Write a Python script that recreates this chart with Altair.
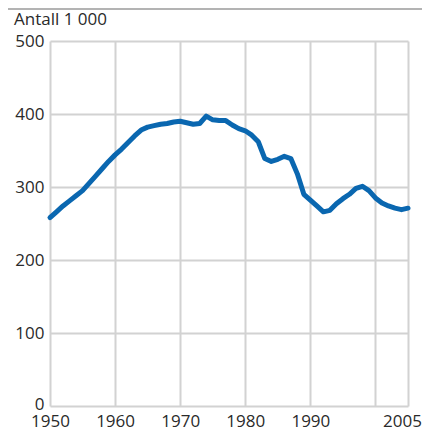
import altair as alt
import pandas as pd

years = list(range(1950, 2006))
values = [258, 266, 274, 281, 288, 295, 305, 315, 325, 335,
          344, 352, 361, 370, 378, 382, 384, 386, 387, 389,
          390, 388, 386, 387, 397, 392, 391, 391, 385, 380,
          377, 371, 362, 339, 335, 338, 342, 339, 318, 290,
          282, 274, 266, 268, 277, 284, 290, 298, 301, 295,
          285, 278, 274, 271, 269, 271]
x_ticks = [1950, 1960, 1970, 1980, 1990, 2000, 2005]
y_ticks = [0, 100, 200, 300, 400, 500]
title_text = "Antall 1 000"

df = pd.DataFrame({"year": years, "value": values})
FONT = "Open Sans"
FS = 17

line = alt.Chart(df).mark_line(color="#0a67b0", strokeWidth=5, strokeJoin="round", strokeCap="round").encode(
    x=alt.X("year:Q", scale=alt.Scale(domain=[1950, 2005], nice=False, zero=False),
            axis=alt.Axis(values=x_ticks, format="d", title=None, grid=True,
                          labelExpr="datum.value == 2000 ? '' : datum.label",
                          labelOffset={"condition": {"test": "datum.value == 2005", "value": -6}, "value": 0},
                          gridColor="#d2d2d2", gridWidth=2, domain=False, ticks=False,
                          labelPadding=7, labelFontSize=FS, labelColor="#2a2a2a",
                          labelFont=FONT, labelFlush=False)),
    y=alt.Y("value:Q", scale=alt.Scale(domain=[0, 500], nice=False),
            axis=alt.Axis(values=y_ticks, title=None, grid=True, gridColor="#d2d2d2",
                          gridWidth=2, domain=False, ticks=False, labelPadding=6,
                          labelOffset={"condition": {"test": "datum.value == 0", "value": -2}, "value": 0},
                          labelFontSize=FS, labelColor="#2a2a2a", labelFont=FONT)),
)

topline = alt.Chart(pd.DataFrame({"a": [0]})).mark_rule(color="#9a9a9a", strokeWidth=1.5).encode(
    x=alt.value(-42), x2=alt.value(372), y=alt.value(-32)
)

title = alt.Chart(pd.DataFrame({"t": [title_text]})).mark_text(
    align="left", baseline="alphabetic", fontSize=17, font=FONT, color="#2a2a2a"
).encode(text="t:N", x=alt.value(-36), y=alt.value(-16))

chart = alt.layer(topline, line, title).properties(
    width=358, height=365,
    autosize=alt.AutoSizeParams(type="none"),
    padding={"left": 42, "top": 33, "right": 14, "bottom": 24},
).configure_view(stroke=None)

chart.save("out.html", embed_options={"renderer": "svg", "actions": False})
